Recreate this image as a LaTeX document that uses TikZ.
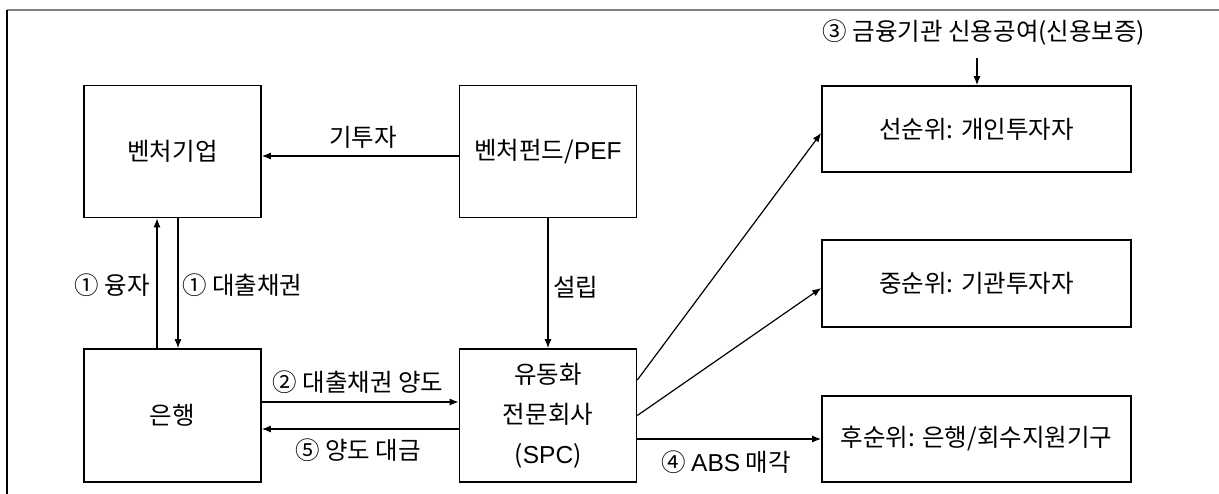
\documentclass[tikz,border=0pt]{standalone}
\usepackage{fontspec}
\setmainfont{Noto Sans CJK KR}
\newfontfamily\latfont{Liberation Sans}
\usetikzlibrary{arrows.meta,calc}
\tikzset{
  box/.style={draw, line width=1.6pt, minimum width=177pt, minimum height=132pt, inner sep=0pt, align=center},
  wbox/.style={draw, line width=1.6pt, minimum width=309pt, minimum height=86pt, inner sep=0pt, align=center},
  conn/.style={line width=1.2pt, -{Latex[length=9pt,width=7pt]}},
  lbl/.style={inner sep=0pt}
}
\begin{document}
\begin{tikzpicture}[x=1pt,y=-1pt, every node/.style={font=\fontsize{24.5}{40}\selectfont}]
\useasboundingbox (0,0) rectangle (1219,494);
% frame
\coordinate (ftl) at (7,10);
\coordinate (ftr) at (1219,10);
\coordinate (fbl) at (7,494);
\draw[gray, line width=1.5pt] (ftl) -- (ftr);
\draw[black, line width=1.2pt] (ftl) -- (fbl);
% boxes
\node[box] (venture) at (172.5,151.5) {벤처기업};
\node[box, minimum height=133pt] (bank) at (172.5,415.5) {은행};
\node[box] (fund) at (548,151.5) {벤처펀드/{\latfont PEF}};
\node[box, minimum height=133pt] (spc) at (548,415.5) {유동화\\전문회사\\({\latfont SPC})};
\node[wbox] (sen) at (976.5,129) {선순위: 개인투자자};
\node[wbox, minimum height=87pt] (jung) at (976.5,283.5) {중순위: 기관투자자};
\node[wbox] (hu) at (976.5,439) {후순위: 은행/회수지원기구};
% connectors
\draw[conn] ($(bank.north)+(-15.5,0)$) -- ($(venture.south)+(-15.5,0)$);
\draw[conn] ($(venture.south)+(5.5,0)$) -- ($(bank.north)+(5.5,0)$);
\node[lbl, anchor=east] (l1a) at (150,285) {① 융자};
\node[lbl, anchor=west] (l1b) at (182,285) {① 대출채권};
\draw[conn] ($(fund.west)+(0,4.5)$) -- ($(venture.east)+(0,4.5)$);
\node[lbl] (lgi) at (363,137) {기투자};
\draw[conn] (fund.south) -- (spc.north);
\node[lbl, anchor=west] (lsl) at (553,287) {설립};
\draw[conn] ($(bank.east)+(0,-13.5)$) -- ($(spc.west)+(0,-13.5)$);
\node[lbl] (l2) at (358,382) {② 대출채권 양도};
\draw[conn] ($(spc.west)+(0,13.5)$) -- ($(bank.east)+(0,13.5)$);
\node[lbl] (l5) at (358,450) {⑤ 양도 대금};
\draw[conn] (spc.east |- hu.west) -- (hu.west);
\node[lbl] (l4) at (726,462) {④ {\latfont ABS} 매각};
\draw[conn] ($(spc.east)+(0,-35.5)$) -- ($(sen.west)+(0,4)$);
\draw[conn] (spc.east) -- ($(jung.west)+(0,4.5)$);
\node[lbl] (l3) at (984,33) {③ 금융기관 신용공여(신용보증)};
\coordinate (c3) at (977,58);
\draw[conn] (c3) -- (c3 |- sen.north);
\end{tikzpicture}
\end{document}
